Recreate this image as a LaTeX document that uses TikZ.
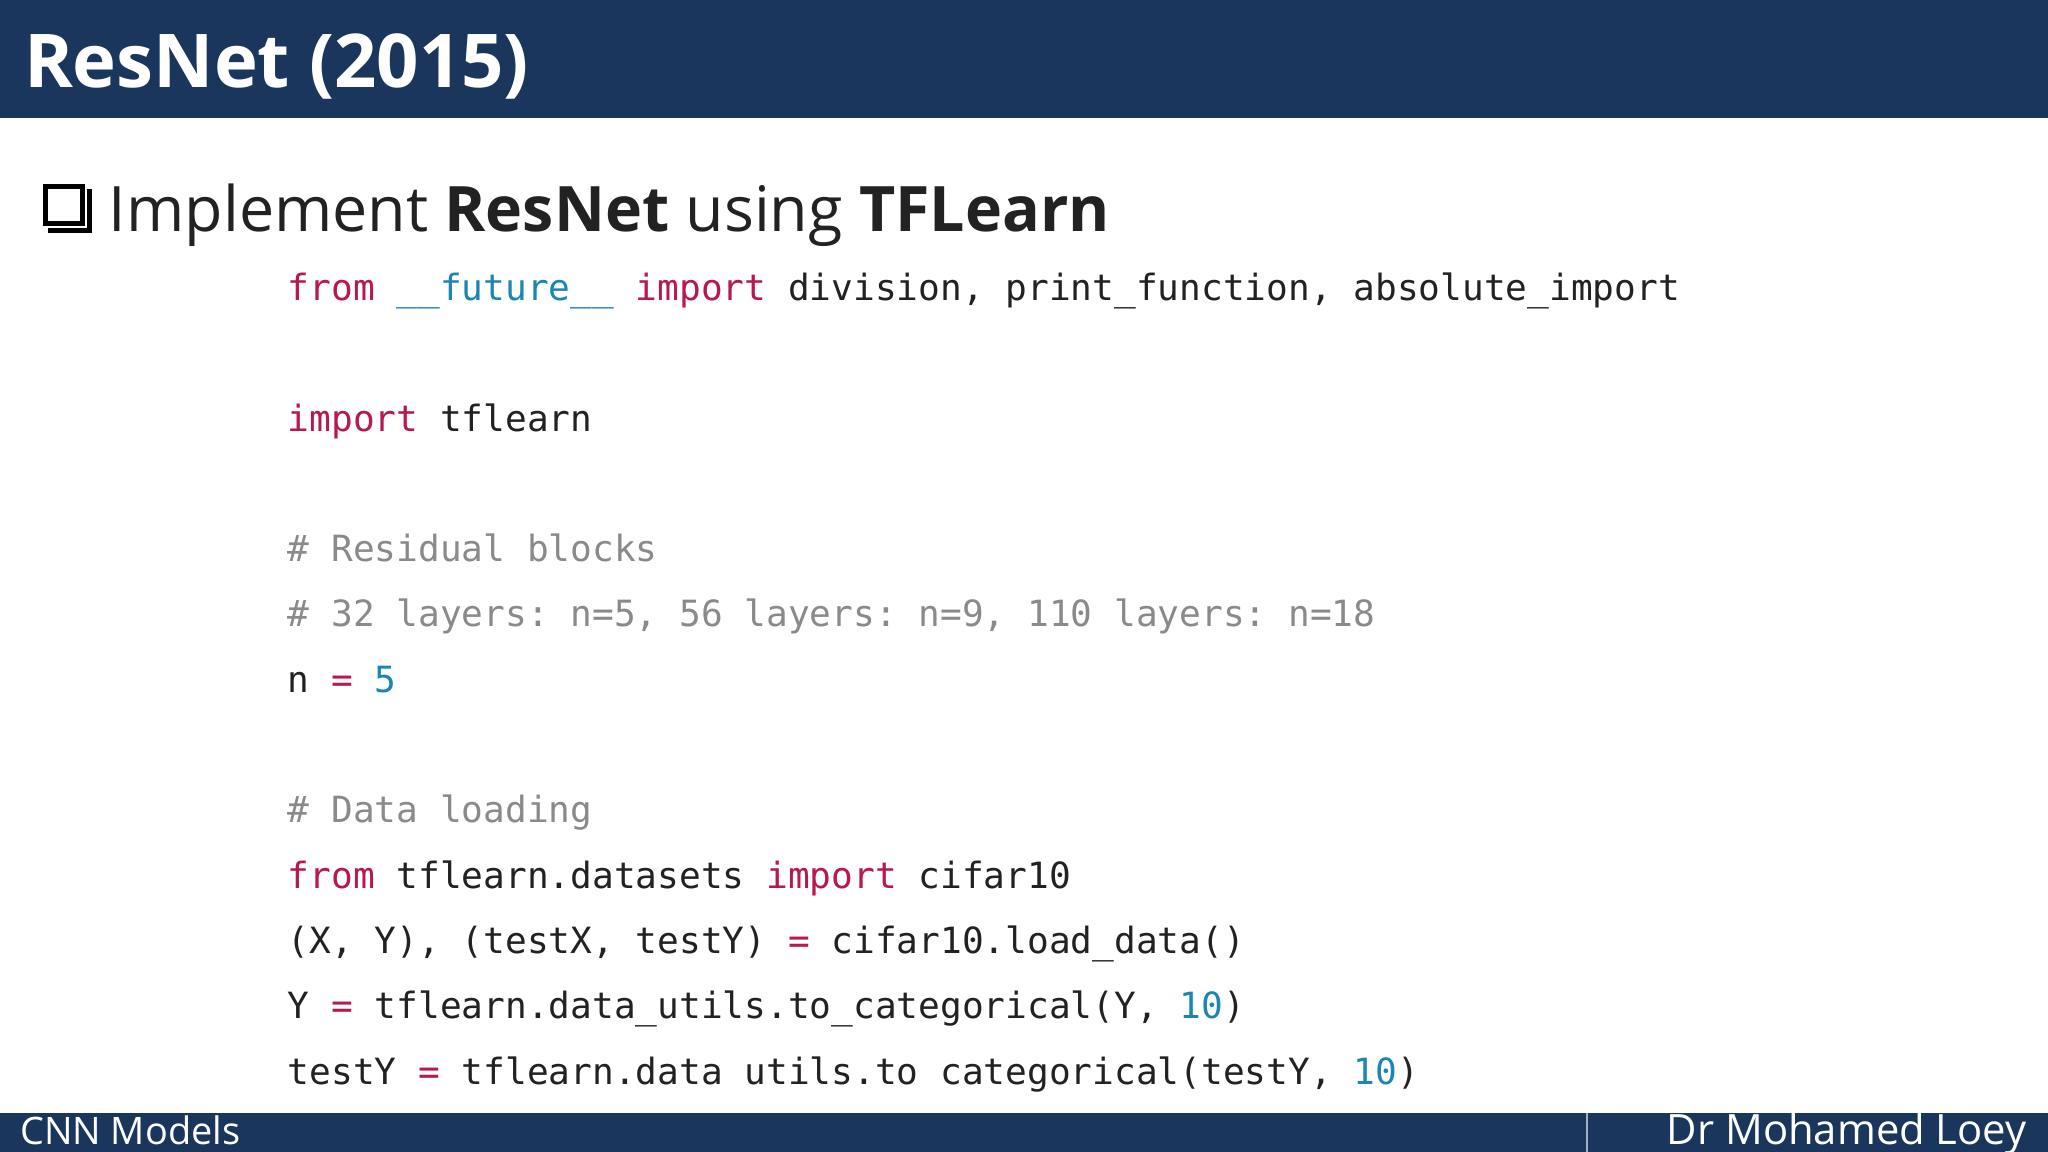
\documentclass[tikz,border=0pt]{standalone}
\usepackage{fontspec}
\setmainfont{Open Sans}
\setmonofont{DejaVu Sans Mono}
\definecolor{navy}{HTML}{1B365D}
\definecolor{kw}{HTML}{B8174F}
\definecolor{num}{HTML}{1C86B3}
\definecolor{cmt}{HTML}{8A8A8A}
\definecolor{txt}{HTML}{222222}
\newcommand{\K}[1]{\textcolor{kw}{#1}}
\newcommand{\N}[1]{\textcolor{num}{#1}}
\begin{document}
\begin{tikzpicture}[x=0.5pt,y=-0.5pt,
 code/.style={anchor=base west,inner sep=0,font=\ttfamily\fontsize{13.83}{16}\selectfont,text=txt},
 cmtline/.style={code,text=cmt}]
\useasboundingbox (0,0) rectangle (1568,882);
\fill[white] (0,0) rectangle (1568,882);
\fill[navy] (0,0) rectangle (1568,90);
\node[anchor=base west,inner sep=0,text=white,font=\bfseries\fontsize{28.4}{34}\selectfont] (title) at (18,67) {ResNet (2015)};
\node[draw=black,line width=2pt,minimum size=14pt,inner sep=0] (box) at (49,157) {};
\draw[black,line width=2pt] ([xshift=1.8pt,yshift=-1.8pt]box.south west) -- ([xshift=1.8pt,yshift=-1.8pt]box.south east) -- ([xshift=1.8pt,yshift=-1.8pt]box.north east);
\node[anchor=base west,inner sep=0,text=txt,font=\fontsize{24}{30}\selectfont] (head) at (83,177) {Implement \textbf{ResNet} using \textbf{TFLearn}};
\node[code] (l1) at (220,230) {\K{from} \N{\_\_future\_\_} \K{import} division, print\_function, absolute\_import};
\node[code] (l2) at (220,330) {\K{import} tflearn};
\node[cmtline] (l3) at (220,430) {\# Residual blocks};
\node[cmtline] (l4) at (220,480) {\# 32 layers: n=5, 56 layers: n=9, 110 layers: n=18};
\node[code] (l5) at (220,530) {n \K{=} \N{5}};
\node[cmtline] (l6) at (220,630) {\# Data loading};
\node[code] (l7) at (220,680) {\K{from} tflearn.datasets \K{import} cifar10};
\node[code] (l8) at (220,730) {(X, Y), (testX, testY) \K{=} cifar10.load\_data()};
\node[code] (l9) at (220,780) {Y \K{=} tflearn.data\_utils.to\_categorical(Y, \N{10})};
\node[code] (l10) at (220,830) {testY \K{=} tflearn.data utils.to categorical(testY, \N{10})};
\fill[navy] (0,852) rectangle (1568,882);
\draw[white!60!navy,line width=0.6pt] (1215,852) -- (1215,882);
\node[anchor=base west,inner sep=0,text=white,font=\fontsize{14.5}{17}\selectfont] (f1) at (15,876) {CNN Models};
\node[anchor=base east,inner sep=0,text=white,font=\fontsize{16}{19}\selectfont] (f2) at (1552,876) {Dr Mohamed Loey};
\end{tikzpicture}
\end{document}
